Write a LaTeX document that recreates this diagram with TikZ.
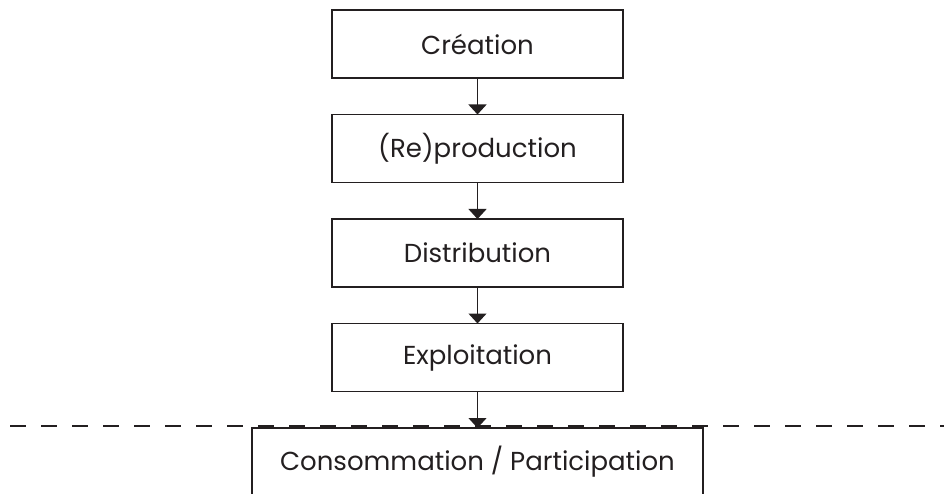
\documentclass[tikz,border=0pt]{standalone}
\usepackage{fontspec}
\setmainfont{Poppins}
\usetikzlibrary{positioning,arrows.meta}
\definecolor{diagink}{HTML}{231F20}
\begin{document}
\begin{tikzpicture}[x=1pt,y=1pt,node distance=36.5pt,
	every node/.style = {shape=rectangle, draw=diagink, line width=1.3pt,
		outer sep=0pt, text=diagink, font=\fontsize{26}{30}\selectfont},
	stage/.style = {minimum width=291pt, minimum height=68pt},
	flow/.style = {draw=diagink, line width=1.3pt, -{Triangle[width=18pt,length=10pt]}}]
	\useasboundingbox (0,0) rectangle (944,-494);
	\node[stage] (creation) at (477.5,-44) {Création};
	\node[stage, below=of creation] (repro) {(Re)production};
	\node[stage, below=of repro] (distrib) {Distribution};
	\node[stage, below=of distrib] (exploit) {Exploitation};
	\node[minimum width=451pt, minimum height=68pt, below=of exploit] (conso) {Consommation / Participation};
	% frontier line
	\coordinate (lineL) at (10,-426);
	\coordinate (lineR) at (944,-426);
	\draw[diagink, line width=1.1pt, dash pattern=on 16pt off 15pt] (lineL) -- (lineR);
	\draw[flow] (creation) -- (repro);
	\draw[flow] (repro) -- (distrib);
	\draw[flow] (distrib) -- (exploit);
	\draw[flow] (exploit) -- (conso);
\end{tikzpicture}
\end{document}
